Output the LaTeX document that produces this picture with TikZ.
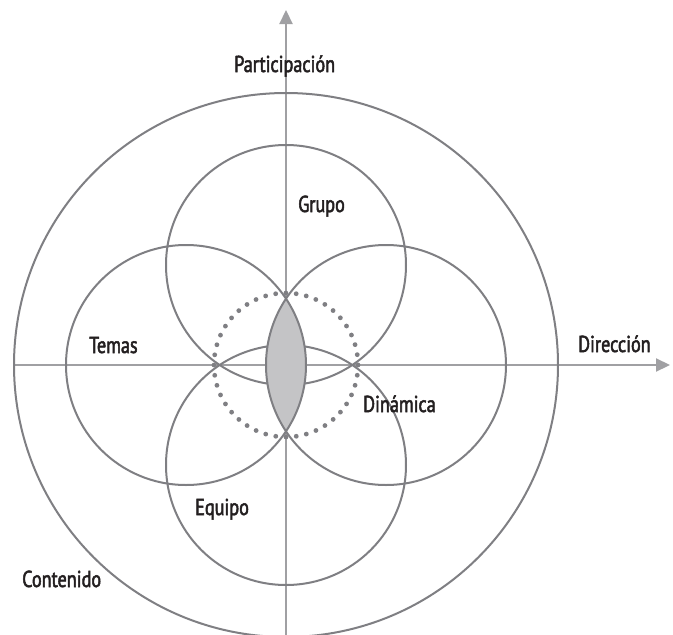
\documentclass[tikz,border=0pt]{standalone}
\usepackage{fontspec}
\setmainfont[FakeStretch=0.79,FakeBold=2.2]{PT Sans}
\usetikzlibrary{arrows.meta}
\definecolor{circ}{HTML}{7F7F83}
\definecolor{axis}{HTML}{A0A0A3}
\definecolor{lens}{HTML}{C4C4C6}
\definecolor{txt}{HTML}{231F20}
\tikzset{
  ring/.style={draw=circ, line width=2pt},
  axisline/.style={draw=axis, line width=2.2pt, -{Triangle[length=14pt,width=13pt]}},
  lbl/.style={text=txt, font=\fontsize{23}{26}\selectfont, inner sep=0pt, anchor=base west},
}
\begin{document}
\begin{tikzpicture}[x=1pt,y=-1pt]
\useasboundingbox (0,0) rectangle (673,635);
\clip (0,0) rectangle (673,635);
\coordinate (O) at (286,365);
\coordinate (T) at (286,265);
\coordinate (B) at (286,465);
\coordinate (L) at (186,365);
\coordinate (R) at (386,365);
\coordinate (xs) at (14,365);
\coordinate (xe) at (670,365);
\coordinate (ys) at (286,640);
\coordinate (ye) at (286,10);
% axes
\draw[axisline] (xs) -- (xe);
\draw[axisline] (ys) -- (ye);
% top and bottom circles
\draw[ring] (T) circle (120);
\draw[ring] (B) circle (120);
% lens
\begin{scope}
  \clip (L) circle (120);
  \fill[lens] (R) circle (120);
\end{scope}
% left and right circles
\draw[ring] (L) circle (120);
\draw[ring] (R) circle (120);
% dotted circle
\draw[circ, line width=4.8pt, line cap=round, dash pattern=on 0pt off 10.28pt] (O) circle (72);
% outer circle
\draw[ring] (O) circle (272);
% labels
\node[lbl] (par) at (234,72) {Participación};
\node[lbl] (gru) at (298,212) {Grupo};
\node[lbl] (tem) at (89,353) {Temas};
\node[lbl] (dir) at (578,352) {Dirección};
\node[lbl] (din) at (363,412) {Dinámica};
\node[lbl] (equ) at (195,515) {Equipo};
\node[lbl] (con) at (22,587) {Contenido};
\end{tikzpicture}
\end{document}
